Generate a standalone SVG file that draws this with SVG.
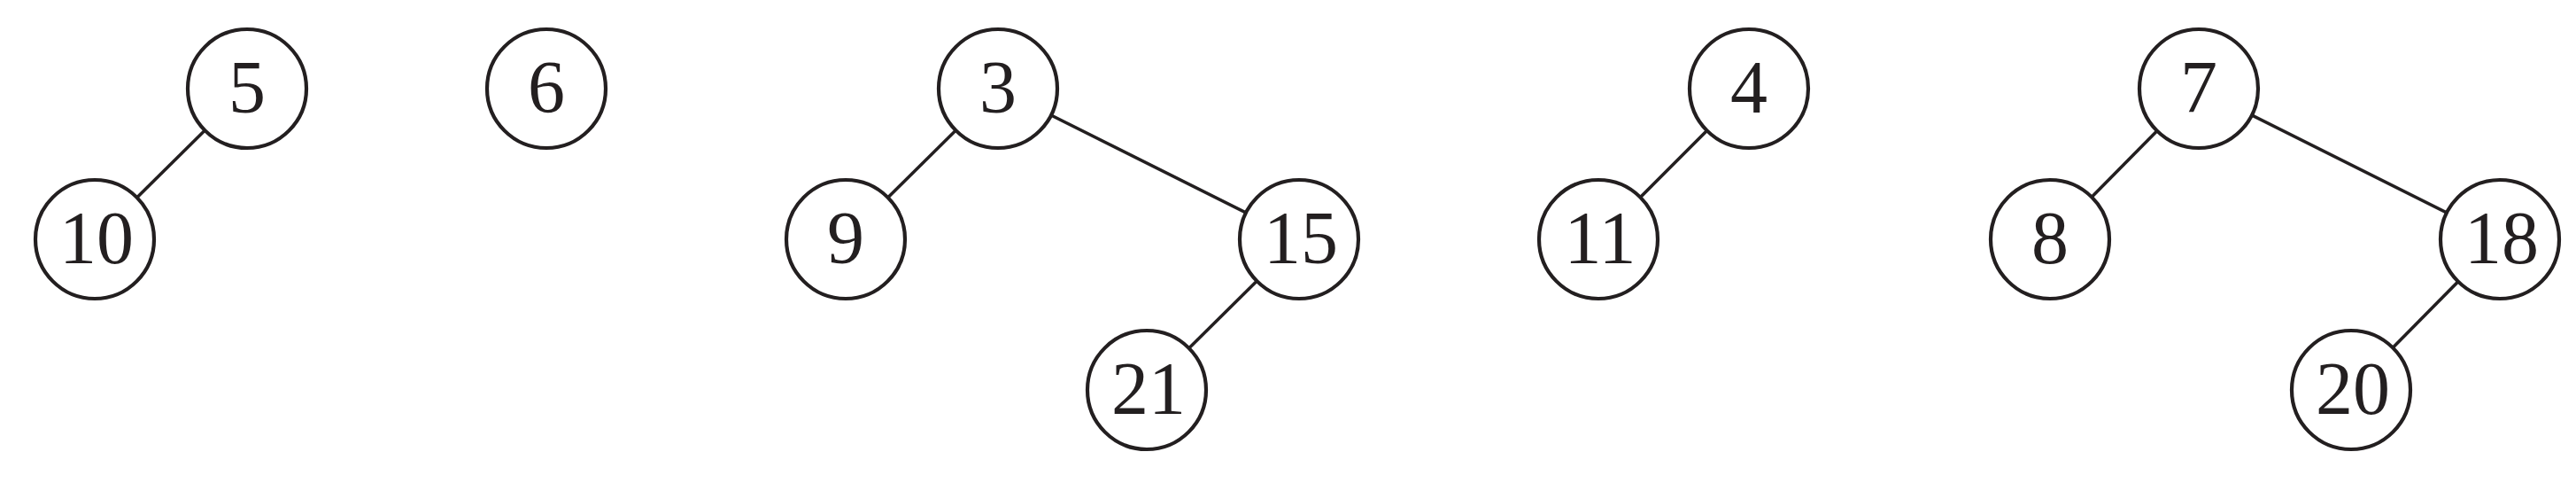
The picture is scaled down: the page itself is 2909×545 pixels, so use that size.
<svg xmlns="http://www.w3.org/2000/svg" width="2909" height="545" viewBox="0 0 2909 545">
<style>
.edge{stroke:#231f20;stroke-width:3.6;fill:none}
.node circle{fill:#ffffff;stroke:#231f20;stroke-width:4.2}
.node text{font-family:"Liberation Serif","Times New Roman",serif;font-size:84px;fill:#231f20;text-anchor:middle}
</style>
<rect width="2909" height="545" fill="#ffffff"/>
<g id="connectors">
<line class="edge" x1="279" y1="100" x2="107" y2="270"/>
<line class="edge" x1="1127" y1="100" x2="955" y2="270"/>
<line class="edge" x1="1127" y1="100" x2="1467" y2="270"/>
<line class="edge" x1="1467" y1="270" x2="1295" y2="440"/>
<line class="edge" x1="1975" y1="100" x2="1805" y2="270"/>
<line class="edge" x1="2483" y1="100" x2="2315" y2="270"/>
<line class="edge" x1="2483" y1="100" x2="2823" y2="270"/>
<line class="edge" x1="2823" y1="270" x2="2655" y2="440"/>
</g>
<g id="n5" class="node"><circle cx="279" cy="100" r="67"/><text x="279" y="127">5</text></g>
<g id="n10" class="node"><circle cx="107" cy="270" r="67"/><text x="109" y="297">10</text></g>
<g id="n6" class="node"><circle cx="617" cy="100" r="67"/><text x="617" y="127">6</text></g>
<g id="n3" class="node"><circle cx="1127" cy="100" r="67"/><text x="1127" y="127">3</text></g>
<g id="n9" class="node"><circle cx="955" cy="270" r="67"/><text x="955" y="297">9</text></g>
<g id="n15" class="node"><circle cx="1467" cy="270" r="67"/><text x="1469" y="297">15</text></g>
<g id="n21" class="node"><circle cx="1295" cy="440" r="67"/><text x="1297" y="467">21</text></g>
<g id="n4" class="node"><circle cx="1975" cy="100" r="67"/><text x="1975" y="127">4</text></g>
<g id="n11" class="node"><circle cx="1805" cy="270" r="67"/><text x="1807" y="297">11</text></g>
<g id="n7" class="node"><circle cx="2483" cy="100" r="67"/><text x="2483" y="127">7</text></g>
<g id="n8" class="node"><circle cx="2315" cy="270" r="67"/><text x="2315" y="297">8</text></g>
<g id="n18" class="node"><circle cx="2823" cy="270" r="67"/><text x="2825" y="297">18</text></g>
<g id="n20" class="node"><circle cx="2655" cy="440" r="67"/><text x="2657" y="467">20</text></g>
</svg>
